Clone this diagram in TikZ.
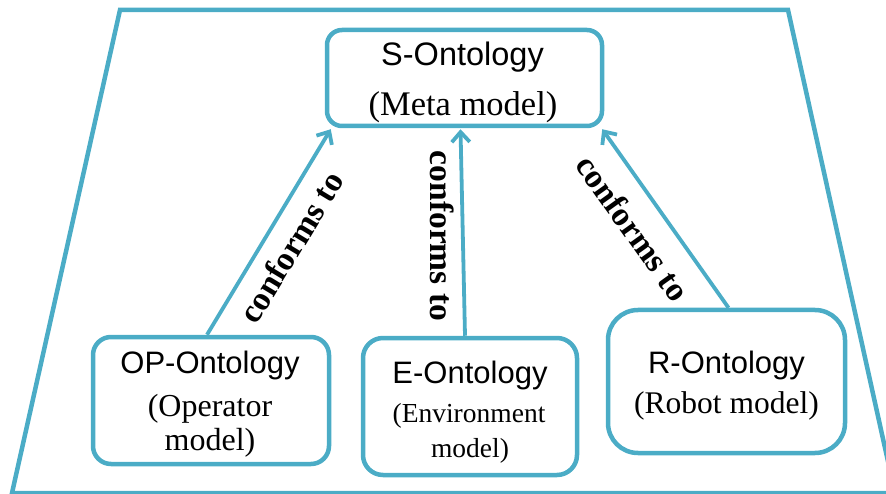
\documentclass[tikz,border=0pt]{standalone}
\usepackage{fontspec}
\setmainfont{Liberation Serif}
\newfontfamily\sansf{Liberation Sans}
\usetikzlibrary{arrows.meta,calc}
\definecolor{ln}{HTML}{4BACC6}
\begin{document}
\begin{tikzpicture}[x=1pt,y=-1pt,
  box/.style={draw=ln, line width=4.5pt, rounded corners=#1, inner sep=0pt},
  box/.default=18pt,
  frame/.style={draw=ln, line width=4.5pt, line join=miter},
  arr/.style={draw=ln, line width=3.8pt, -{Straight Barb[length=10pt,width=18pt]}},
  ttl/.style={font=\sansf\fontsize{#1}{36}\selectfont, anchor=base, inner sep=0pt},
  ttl/.default=30.5,
  sub/.style={font=\fontsize{#1}{38}\selectfont, anchor=base, inner sep=0pt},
  sub/.default=32,
  lab/.style={font=\bfseries\fontsize{33.5}{38}\selectfont, inner sep=0pt}
]
\useasboundingbox (0,0) rectangle (886,494);
% outer trapezoid
\draw[frame] (120,10) -- (788,10) -- (895,493) -- (12,493) -- cycle;

% boxes
\node[box=15pt, minimum width=275pt, minimum height=96pt] (s) at (464.5,78) {};
\node[box=18pt, minimum width=236pt, minimum height=127pt] (op) at (211,400.5) {};
\node[box=20pt, minimum width=214pt, minimum height=137pt] (e) at (470,406.5) {};
\node[box=30pt, minimum width=237pt, minimum height=143pt] (r) at (726.5,381.5) {};

% texts
\node[ttl=32.5] (s1) at (462.5,66) {S-Ontology};
\node[sub=34.5] (s2) at (463,116) {(Meta model)};
\node[ttl=31] (op1) at (210,373) {OP-Ontology};
\node[sub] (op2) at (210,416) {(Operator};
\node[sub] (op3) at (210,450) {model)};
\node[ttl=31] (e1) at (470,383) {E-Ontology};
\node[sub=27.5] (e2) at (469,422) {(Environment};
\node[sub=27.5] (e3) at (470,457) {model)};
\node[ttl=31] (r1) at (726.5,373) {R-Ontology};
\node[sub=31.5] (r2) at (726.5,413) {(Robot model)};

% connectors
\draw[arr] ($(op.north)+(-4,0)$) -- ($(s.south west)+(6,1)$);
\draw[arr] ($(e.north)+(-5,0)$) -- ($(s.south)+(-4,1)$);
\draw[arr] ($(r.north)+(2,0)$) -- ($(s.south east)+(-2,1)$);

% labels
\node[lab, rotate=58.8] (l1) at (291,247) {conforms to};
\node[lab, rotate=-90] (l2) at (442,236) {conforms to};
\node[lab, rotate=-54.4] (l3) at (633,228) {conforms to};
\end{tikzpicture}
\end{document}
